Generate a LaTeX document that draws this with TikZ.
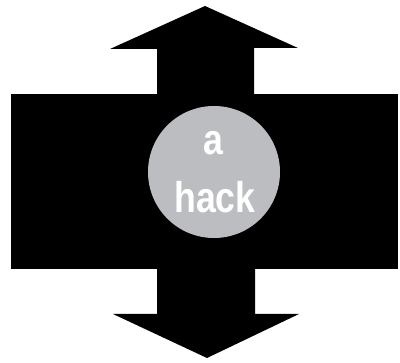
\documentclass[tikz,border=0pt]{standalone}
\usepackage{fontspec}
\setmainfont{Liberation Sans}
\definecolor{hackgrey}{RGB}{188,189,193}
\tikzset{
    hackword/.style={anchor=base, text=white, inner sep=0pt,
        font=\fontsize{43}{58}\selectfont\bfseries}
}
\begin{document}
\begin{tikzpicture}[x=1pt, y=-1pt]
    \useasboundingbox (0,0) rectangle (400,363);

    % bar and the two arrows
    \fill (11,94) rectangle (398,269);
    \fill (157,95) -- (157,49) -- (110,49) -- (205,6) -- (298,48) -- (254,48) -- (254,95) -- cycle;
    \fill (157,268) -- (157,314) -- (113,314) -- (207,358) -- (299,314) -- (255,314) -- (255,268) -- cycle;

    \node (hackdisc) [circle, fill=hackgrey, inner sep=0pt, minimum size=132pt] at (214,172) {};
    \node (worda) [hackword] at (213,155) {\scalebox{0.83}[1]{a}};
    \node (wordhack) [hackword] at (215,213) {\scalebox{0.83}[1]{hack}};
\end{tikzpicture}
\end{document}
